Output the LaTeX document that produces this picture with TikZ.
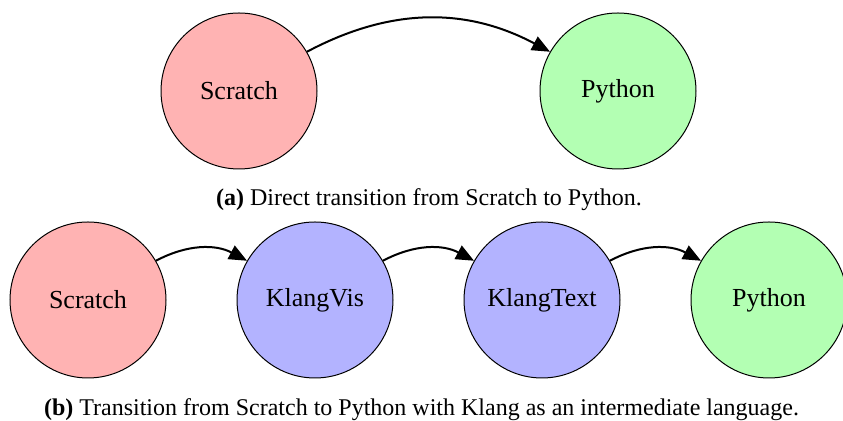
\documentclass[tikz,border=0pt]{standalone}
\usepackage{fontspec}
\setmainfont{Liberation Serif}
\usepackage{tikz}
\usetikzlibrary{positioning,arrows.meta}
\definecolor{scratchred}{HTML}{FFB3B3}
\definecolor{klangblue}{HTML}{B3B3FF}
\definecolor{pythongreen}{HTML}{B3FFB3}

\begin{document}
\begin{tikzpicture}[x=0.5pt, y=-0.5pt, node distance=35pt, >={Triangle[length=9pt,width=7.5pt]}, every node/.style={font=\fontsize{13}{15}\selectfont}]
\tikzstyle{lang}=[circle, draw, line width=0.5pt, minimum size=78pt, inner sep=0pt]
\tikzstyle{edge}=[->, line width=1pt, bend left=28]
\tikzstyle{caption}=[font=\fontsize{12}{14}\selectfont]
\useasboundingbox (0,0) rectangle (843,421);
% (a) direct transition
\node[lang, fill=scratchred] (scratchA) at (239,91) {Scratch};
\node[lang, fill=pythongreen, right=111pt of scratchA] (pythonA) {Python};
\draw[edge] (scratchA.30) to (pythonA.150);
\node[caption] (capA) at (429,200) {\textbf{(a)} Direct transition from Scratch to Python.};
% (b) with Klang in between
\node[lang, fill=scratchred] (scratchB) at (88,300) {Scratch};
\node[lang, fill=klangblue, right=of scratchB] (klangvis) {KlangVis};
\node[lang, fill=klangblue, right=of klangvis] (klangtext) {KlangText};
\node[lang, fill=pythongreen, right=of klangtext] (pythonB) {Python};
\draw[edge] (scratchB.30) to (klangvis.150);
\draw[edge] (klangvis.30) to (klangtext.150);
\draw[edge] (klangtext.30) to (pythonB.150);
\node[caption] (capB) at (421.5,410) {\textbf{(b)} Transition from Scratch to Python with Klang as an intermediate language.};
\end{tikzpicture}
\end{document}
